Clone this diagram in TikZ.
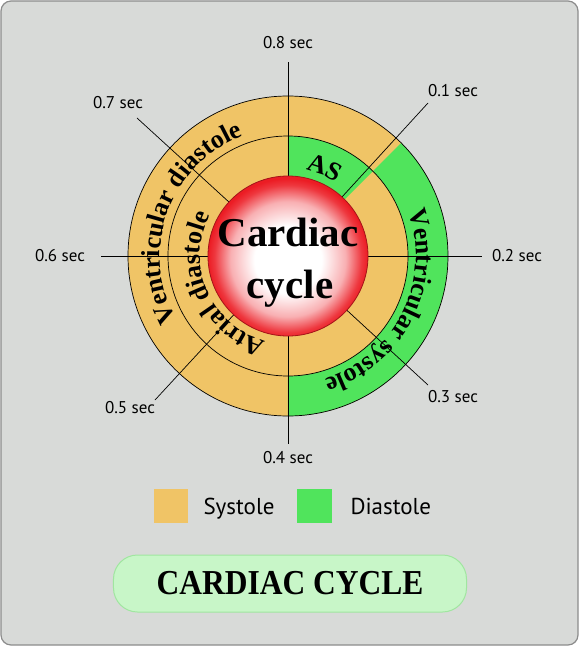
\documentclass[tikz,border=0pt]{standalone}
\usepackage{fontspec}
\setmainfont{Liberation Serif}
\newfontfamily\secfont{PT Sans}
\newfontfamily\titlefont[FakeStretch=0.9]{Liberation Serif}
\usetikzlibrary{decorations.text}

\definecolor{bggrey}{RGB}{216,218,216}
\definecolor{framegrey}{RGB}{140,140,140}
\definecolor{sysorange}{RGB}{240,196,102}
\definecolor{diagreen}{RGB}{80,228,92}
\definecolor{heartred}{RGB}{236,28,36}
\definecolor{titlegreen}{RGB}{200,246,200}
\definecolor{titleedge}{RGB}{160,230,160}

\newcommand{\ringfont}{\fontsize{26}{30}\selectfont\bfseries}

% middle 50bp of the shading is stretched over the circle
\pgfdeclareradialshading{sphereshade}{\pgfpoint{0bp}{-1.5bp}}{%
  color(0bp)=(white); color(10.5bp)=(white); color(18bp)=(heartred!35);
  color(23bp)=(heartred!88); color(25bp)=(heartred); color(50bp)=(heartred)}

\tikzset{
  ringline/.style={line width=0.7pt},
  secline/.style={line width=0.7pt},
  seclabel/.style={font=\secfont\fontsize{17}{20}\selectfont},
  ringtext/.style={decorate, decoration={text along path, text align=center,
      text={|\ringfont|#1}}},
  keybox/.style={minimum size=34pt, inner sep=0pt},
  keytext/.style={anchor=base west, font=\secfont\fontsize{23}{27}\selectfont},
  titlebox/.style={fill=titlegreen, draw=titleedge, line width=1pt,
      rounded corners=24pt, minimum width=353pt, minimum height=57pt,
      font=\titlefont\fontsize{35}{40}\selectfont\bfseries}
}

\begin{document}
\begin{tikzpicture}[x=1pt, y=1pt]
            \useasboundingbox (-288,-392) rectangle (293,256);

            % Background panel
            \draw[fill=bggrey, draw=framegrey, line width=1.2pt, rounded corners=10pt]
                (-287,-389) rectangle (290,255);

            \coordinate (o) at (0,0);

            % Outer ring: ventricles
            \fill[sysorange] (o) circle[radius=160pt];
            \fill[diagreen] (o) -- (45:160pt) arc[start angle=45, end angle=-90, radius=160pt] -- cycle;

            % Inner ring: atria
            \fill[sysorange] (o) circle[radius=120pt];
            \fill[diagreen] (o) -- (90:120pt) arc[start angle=90, end angle=45, radius=120pt] -- cycle;

            \draw[ringline] (o) circle[radius=160pt];
            \draw[ringline] (o) circle[radius=120pt];

            % Time marks
            \coordinate (e8) at (0,194);
            \coordinate (e1) at (140,153);
            \coordinate (e2) at (194,0);
            \coordinate (e3) at (140,-129);
            \coordinate (e4) at (0,-188);
            \coordinate (e5) at (-133,-144);
            \coordinate (e6) at (-187,0);
            \coordinate (e7) at (-151,138);
            \draw[secline] (o) -- (e8);
            \draw[secline] (o) -- (e1);
            \draw[secline] (o) -- (e2);
            \draw[secline] (o) -- (e3);
            \draw[secline] (o) -- (e4);
            \draw[secline] (o) -- (e5);
            \draw[secline] (o) -- (e6);
            \draw[secline] (o) -- (e7);

            % Phase names along the rings
            \path[ringtext={Ventricular diastole}] (210:128pt) arc[start angle=210, end angle=110, radius=128pt];
            \path[ringtext={Ventricular systole}] (25:128pt) arc[start angle=25, end angle=-78, radius=128pt];
            \path[ringtext={Atrial diastole}] (262:88pt) arc[start angle=262, end angle=146, radius=88pt];
            \path[ringtext={AS}] (90:88pt) arc[start angle=90, end angle=45, radius=88pt];

            % Heart sphere
            \shade[shading=sphereshade] (o) circle[radius=80pt];
            \draw[heartred!70!black, line width=0.8pt] (o) circle[radius=80pt];
            \node[anchor=base, font=\fontsize{41}{45}\selectfont\bfseries] (heart1) at (0,10) {Cardiac};
            \node[anchor=base, font=\fontsize{41}{45}\selectfont\bfseries] (heart2) at (2,-42) {cycle};

            % Labels
            \node[seclabel] (s8) at (0,213) {0.8 sec};
            \node[seclabel] (s1) at (165,165) {0.1 sec};
            \node[seclabel] (s2) at (229,0) {0.2 sec};
            \node[seclabel] (s3) at (165,-141) {0.3 sec};
            \node[seclabel] (s4) at (0,-202) {0.4 sec};
            \node[seclabel] (s5) at (-158,-152) {0.5 sec};
            \node[seclabel] (s6) at (-228,0) {0.6 sec};
            \node[seclabel] (s7) at (-170,153) {0.7 sec};

            % Key
            \node[keybox, fill=sysorange] (keysys) at (-116.5,-250) {};
            \node[keytext] (keysystext) at (-88,-258) {Systole};
            \node[keybox, fill=diagreen] (keydia) at (26.5,-250) {};
            \node[keytext] (keydiatext) at (59,-258) {Diastole};

            % Title
            \node[titlebox] (title) at (2,-327.5) {CARDIAC CYCLE};
        \end{tikzpicture}
\end{document}
